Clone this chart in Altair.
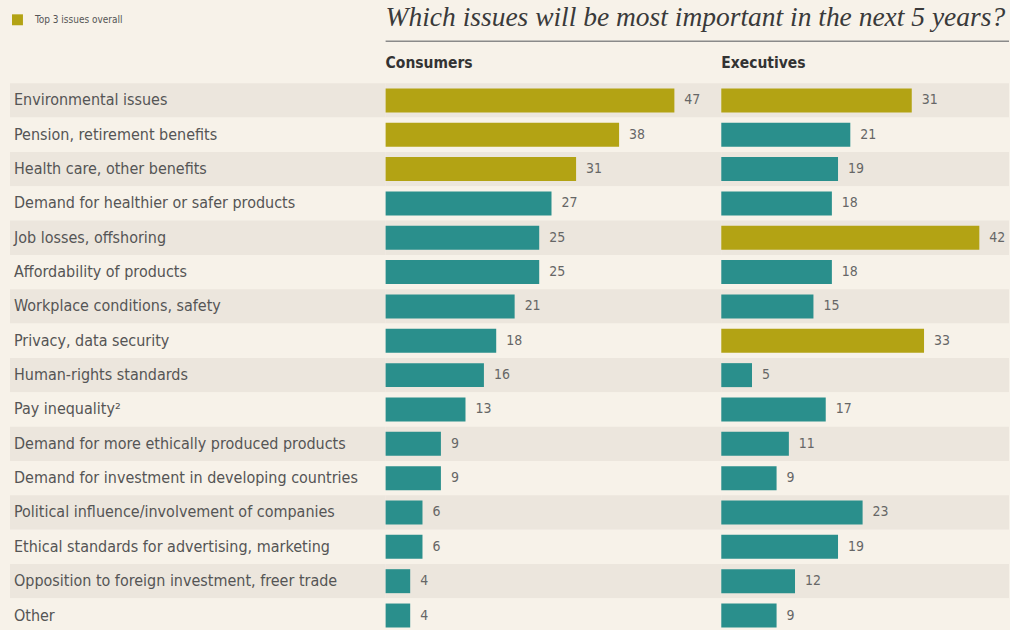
import altair as alt
import pandas as pd

issues = [
    "Environmental issues",
    "Pension, retirement benefits",
    "Health care, other benefits",
    "Demand for healthier or safer products",
    "Job losses, offshoring",
    "Affordability of products",
    "Workplace conditions, safety",
    "Privacy, data security",
    "Human-rights standards",
    "Pay inequality\u00b2",
    "Demand for more ethically produced products",
    "Demand for investment in developing countries",
    "Political influence/involvement of companies",
    "Ethical standards for advertising, marketing",
    "Opposition to foreign investment, freer trade",
    "Other",
]
consumers = [47, 38, 31, 27, 25, 25, 21, 18, 16, 13, 9, 9, 6, 6, 4, 4]
executives = [31, 21, 19, 18, 42, 18, 15, 33, 5, 17, 11, 9, 23, 19, 12, 9]
consumer_top3 = ["Environmental issues", "Pension, retirement benefits", "Health care, other benefits"]
executive_top3 = ["Environmental issues", "Job losses, offshoring", "Privacy, data security"]
groups = ["Consumers", "Executives"]
flag_labels = ["Top 3 issues overall", "Other issues"]
title_text = "Which issues will be most important in the next 5 years?"

OLIVE = "#b3a314"
TEAL = "#2a8f8c"
BG = "#f7f2e9"
STRIPE = "#ece6dd"
TXT = "#555555"
NARROW = "Liberation Sans Narrow, DejaVu Sans Condensed, Roboto, sans-serif"

rows = []
for i, iss in enumerate(issues):
    rows.append({"issue": iss, "idx": i, "group": groups[0], "value": consumers[i],
                 "flag": flag_labels[0] if iss in consumer_top3 else flag_labels[1]})
    rows.append({"issue": iss, "idx": i, "group": groups[1], "value": executives[i],
                 "flag": flag_labels[0] if iss in executive_top3 else flag_labels[1]})
df = pd.DataFrame(rows)
issues_df = pd.DataFrame({"issue": issues, "idx": list(range(len(issues)))})

H = 550
W_LAB, W_CON, W_EXE = 376, 336, 288
PX_PER_UNIT = 6.15

yenc = alt.Y("issue:N", sort=issues, axis=None,
             scale=alt.Scale(paddingInner=0, paddingOuter=0))

color_scale = alt.Scale(domain=flag_labels, range=[OLIVE, TEAL])


def stripes(data, width):
    return alt.Chart(data).mark_rect().encode(
        y=yenc,
        x=alt.value(0),
        x2=alt.value(width),
        fill=alt.condition("datum.idx % 2 == 0", alt.value(STRIPE), alt.value(BG)),
    )


# label panel
lab_stripes = stripes(issues_df, W_LAB)
lab_text = alt.Chart(issues_df).mark_text(
    align="left", baseline="middle", font=NARROW, fontSize=16, color=TXT
).encode(y=yenc, x=alt.value(4), text="issue:N")
label_panel = alt.layer(lab_stripes, lab_text).properties(width=W_LAB, height=H)


def panel(group, width, show_legend, extra):
    d = df[df["group"] == group]
    xenc_scale = alt.Scale(domain=[0, width / PX_PER_UNIT], nice=False)
    st = stripes(issues_df, width)
    bars = alt.Chart(d).mark_bar(size=24).encode(
        y=yenc,
        x=alt.X("value:Q", scale=xenc_scale, axis=None),
        color=alt.Color(
            "flag:N", scale=color_scale,
            legend=alt.Legend(
                title=None, orient="none", legendX=2, legendY=-69,
                values=[flag_labels[0]], symbolType="square", symbolSize=120,
                symbolStrokeWidth=0, labelFont=NARROW, labelFontSize=10,
                labelColor=TXT, symbolOpacity=1, labelOffset=12,
            ) if show_legend else None,
        ),
    )
    vals = alt.Chart(d).mark_text(
        align="left", baseline="middle", dx=10, font=NARROW, fontSize=14, color="#666666"
    ).encode(y=yenc, x=alt.X("value:Q", scale=xenc_scale, axis=None), text="value:Q")
    header = alt.Chart(pd.DataFrame({"t": [group]})).mark_text(
        align="left", baseline="alphabetic", font=NARROW, fontSize=15.5, fontWeight="bold",
        color="#333333"
    ).encode(x=alt.value(0), y=alt.value(-15), text="t:N")
    layers = [st, bars, vals, header] + extra
    return alt.layer(*layers).properties(width=width, height=H)


main_title = alt.Chart(pd.DataFrame({"t": [title_text]})).mark_text(
    align="left", baseline="alphabetic", font="Liberation Serif", fontStyle="italic",
    fontSize=27.5, color="#3a3a3a"
).encode(x=alt.value(0), y=alt.value(-57), text="t:N")
title_rule = alt.Chart(pd.DataFrame({"t": [title_text]})).mark_rule(
    color="#8a8a8a", strokeWidth=1.5
).encode(x=alt.value(0), x2=alt.value(W_CON + W_EXE), y=alt.value(-42))

con_panel = panel(groups[0], W_CON, True, [main_title, title_rule])
exe_panel = panel(groups[1], W_EXE, False, [])

chart = alt.hconcat(label_panel, con_panel, exe_panel, spacing=0, bounds="flush").properties(
    background=BG,
    padding={"left": 10, "top": 4, "right": 0, "bottom": 0},
).configure_view(stroke=None).resolve_scale(color="shared")

chart.save("out.html", embed_options={"renderer": "svg", "actions": False})
